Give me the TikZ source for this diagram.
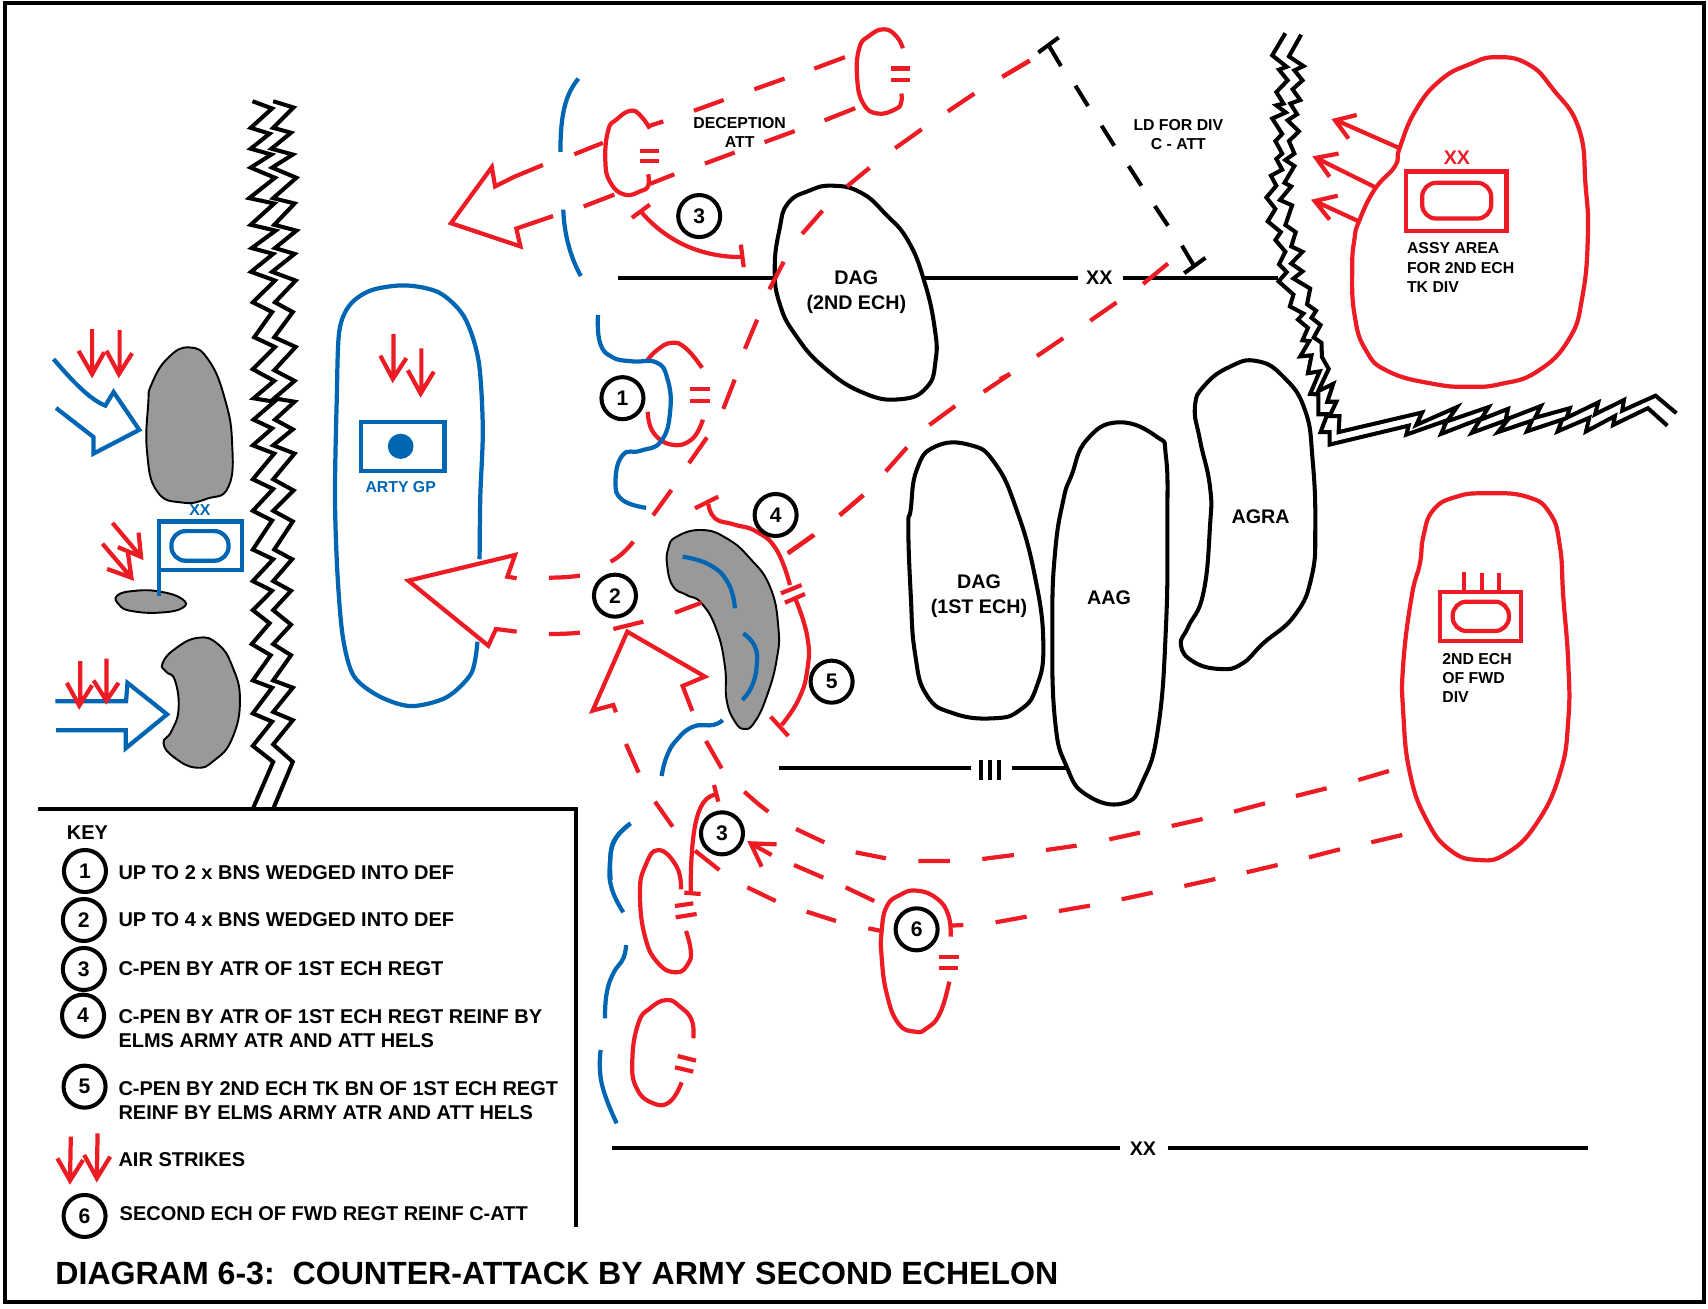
\documentclass[tikz,border=0pt]{standalone}
\usepackage{fontspec}
\setmainfont{Liberation Sans}
\usetikzlibrary{positioning}
\definecolor{mapred}{HTML}{ED1C24}
\definecolor{mapblue}{HTML}{0066B3}
\definecolor{mapgray}{HTML}{999999}

\begin{document}
\begin{tikzpicture}[
  x=0.01cm, y=-0.01cm,
  redline/.style={mapred, line width=1.2pt},
  blueline/.style={mapblue, line width=1.2pt},
  blackline/.style={black, line width=1.15pt},
  grayblob/.style={draw=black, line width=.55pt, fill=mapgray},
  numcirc/.style={draw=black, circle, line width=1.15pt, minimum size=.42cm, inner sep=0pt,
              font=\fontsize{6}{7}\bfseries\selectfont},
  lblbig/.style={align=center, inner sep=0pt, font=\fontsize{5.6}{7}\bfseries\selectfont},
  lblsmall/.style={align=center, inner sep=0pt, font=\fontsize{4.5}{5.45}\bfseries\selectfont},
  lblkey/.style={align=left, anchor=west, inner sep=0pt, font=\fontsize{5.68}{6.85}\bfseries\selectfont},
  oval/.style={rounded corners=.14cm},
  soft/.style={smooth, tension=.8},
  softloop/.style={smooth cycle, tension=.8},
  viewA/.style={shift={(0,60)},xscale=.3571,yscale=.4847},
  viewB/.style={shift={(400,0)},xscale=.4082,yscale=.3571},
  viewC/.style={shift={(1000,0)},xscale=.4515,yscale=.3571},
  viewD/.style={shift={(400,480)},scale=.3333},
  viewE/.style={shift={(580,760)},scale=.3333},
  viewF/.style={shift={(0,790)},xscale=.3827,yscale=.3333},
  viewG/.style={shift={(880,360)},scale=.3333},
  viewH/.style={shift={(1080,480)},scale=.3333}]

\useasboundingbox (0,0) rectangle (1708,1308);

%% ---- frame ----
\draw[black, line width=.9pt] (5,3) rectangle (1704,1302);

%% ---- left side: defence and boundary ----
\begin{scope}[viewA]
\draw[blackline] plot coordinates {(707,85) (762,100) (702,140) (755,152) (702,183) (760,195) (702,222) (770,243) (698,285) (768,296) (702,340) (772,352) (705,388) (765,400) (703,437) (770,455) (708,500) (762,520) (712,572) (770,592) (708,638) (768,662) (710,698) (768,705) (710,742) (762,760) (708,795) (768,812) (708,865) (765,885) (708,930) (762,950) (708,1010) (765,1030) (708,1075) (762,1095) (708,1135) (755,1162) (705,1205) (758,1228) (708,1280) (762,1295) (708,1348) (762,1365) (708,1415) (765,1448) (708,1545)};
\draw[blackline] plot coordinates {(765,85) (822,98) (765,140) (815,150) (760,183) (820,195) (762,222) (830,243) (765,285) (825,296) (768,340) (830,352) (770,388) (825,400) (762,437) (828,455) (770,500) (820,520) (768,572) (828,592) (768,640) (825,662) (768,698) (825,705) (770,742) (820,762) (765,795) (825,812) (765,865) (822,888) (765,930) (820,952) (768,1010) (818,1030) (765,1075) (815,1095) (765,1135) (815,1165) (765,1205) (815,1228) (765,1280) (820,1295) (765,1345) (820,1362) (765,1412) (820,1448) (765,1545)};

%% gray positions
\draw[grayblob] plot[softloop] coordinates {(425,668) (470,615) (530,593) (585,620) (630,700) (650,790) (640,880) (580,905) (510,913) (440,890) (412,810) (415,710)};
\draw[grayblob] plot[softloop] coordinates {(328,1105) (380,1095) (450,1097) (510,1112) (512,1130) (450,1140) (370,1137) (335,1125)};
\draw[grayblob] plot[softloop] coordinates {(455,1245) (490,1215) (555,1192) (610,1205) (650,1250) (672,1320) (650,1400) (600,1445) (550,1460) (490,1440) (458,1410) (480,1385) (500,1340) (490,1280) (465,1262)};

%% blue arrows
\draw[blueline] (150,617) .. controls (200,660) and (250,700) .. (295,713) -- (318,685) -- (390,763) -- (262,812) -- (262,778) -- (157,718);
\draw[blueline] (155,1323) -- (353,1323) -- (357,1285) -- (468,1350) -- (352,1420) -- (352,1383) -- (157,1383);

%% flag
\draw[blueline] (445,1105) -- (445,952) -- (677,952) -- (677,1052) -- (445,1052);
\draw[blueline, oval] (480,972) rectangle (640,1033);
\node[lblsmall, text=mapblue] (flagxx) at (560,928) {XX};

%% air strikes
\draw[redline] (258,555) -- (258,645) (220,600) -- (258,648) -- (292,603);
\draw[redline] (335,557) -- (335,648) (298,600) -- (333,648) -- (370,605);
\draw[redline] (315,955) -- (395,1025) (330,1005) -- (395,1025) -- (388,975);
\draw[redline] (287,998) -- (368,1068) (300,1050) -- (368,1068) -- (358,1015);
\draw[redline] (225,1240) -- (225,1330) (187,1285) -- (222,1332) -- (258,1290);
\draw[redline] (298,1235) -- (298,1322) (262,1280) -- (298,1322) -- (332,1285);

%% artillery group
\draw[blueline] plot[smooth] coordinates {(1343,1030) (1345,900) (1352,760) (1340,620) (1300,530) (1230,480) (1135,465) (1040,475) (980,505) (950,560) (943,700) (938,900) (945,1060) (960,1190) (990,1270) (1060,1312) (1150,1333) (1250,1315) (1320,1265) (1337,1200)};
\draw[blueline] (1010,747) rectangle (1245,848);
\fill[mapblue] (1122,797) ellipse (36 and 26);
\node[lblsmall, text=mapblue] (arty) at (1122,882) {ARTY GP};
\draw[redline] (1102,565) -- (1102,655) (1065,610) -- (1100,658) -- (1138,615);
\draw[redline] (1180,595) -- (1180,685) (1142,640) -- (1178,688) -- (1215,643);
\end{scope}

%% ---- deception attack and 2nd echelon ----
\begin{scope}[viewB]
\draw[redline] (350,462) -- (280,495) -- (233,522) -- (225,468) -- (125,625) -- (295,690) -- (285,640) -- (375,605);
\draw[redline] (427,432) -- (497,400) (612,352) -- (645,340) (720,310) -- (793,280) (868,250) -- (942,220) (1015,192) -- (1090,160);
\draw[redline] (450,578) -- (525,545) (612,515) -- (672,488) (747,458) -- (820,427) (893,398) -- (967,367) (1040,337) -- (1115,303);
\draw[blueline] (437,220) .. controls (405,265) and (393,320) .. (393,425);
\draw[blueline] (400,587) .. controls (402,650) and (415,715) .. (443,773);
\draw[redline] plot[soft] coordinates {(612,360) (590,325) (565,310) (530,335) (510,365) (503,450) (515,510) (550,545) (590,535) (608,520) (608,488)};
\draw[redline] (587,422) -- (635,422) (587,450) -- (635,450);
\draw[redline] plot[soft] coordinates {(1232,135) (1215,100) (1185,82) (1150,100) (1125,135) (1120,220) (1135,290) (1170,318) (1215,305) (1228,285) (1228,262)};
\draw[redline] (1204,192) -- (1250,192) (1204,225) -- (1250,225);
\node[lblsmall] (decept) at (832,370) {DECEPTION\\ATT};
%% counter-penetration 3, upper
\draw[redline] (568,610) -- (612,573);
\draw[redline] (590,592) .. controls (640,660) and (720,720) .. (838,720);
\draw[redline] (835,685) -- (842,748);
\node[numcirc] (three) at (733,605) {3};
%% phase line
\draw[blackline] (535,778) -- (920,778);
\draw[blackline] plot[softloop] coordinates {(950,570) (1000,535) (1060,520) (1130,540) (1190,600) (1245,675) (1285,790) (1310,920) (1312,1010) (1290,1085) (1225,1118) (1135,1100) (1040,1030) (970,940) (930,850) (918,750) (930,640)};
\draw[blackline] (1280,778) -- (1568,778);
\node[lblbig] (dag2) at (1118,818) {DAG\\(2ND ECH)};
%% first axis, upper part
\draw[redline] (1543,170) -- (1476,215) (1407,262) -- (1342,312) (1278,362) -- (1213,415) (1150,470) -- (1095,522) (1035,590) -- (985,655) (940,733) -- (905,810) (875,895) -- (845,977) (820,1063) -- (792,1145) (752,1225) -- (708,1297) (665,1372) -- (620,1443);
%% second axis, upper part
\draw[redline] (1495,1047) -- (1430,1097) (1360,1137) -- (1297,1190) (1242,1253) -- (1190,1320) (1135,1387) -- (1077,1443) (1015,1498) -- (950,1550);
%% wedge 1
\draw[redline] plot[soft] coordinates {(605,1010) (630,980) (665,960) (700,975) (740,1030)};
\draw[redline] plot[soft] coordinates {(607,1153) (620,1210) (665,1245) (715,1230) (742,1175)};
\draw[redline] (710,1090) -- (760,1090) (710,1122) -- (760,1122);
\draw[blueline] plot[soft] coordinates {(485,882) (490,960) (520,1000) (570,1012) (628,1015) (655,1060) (662,1150) (640,1235) (590,1262) (545,1275) (528,1350) (545,1400) (603,1422)};
\node[numcirc] (one) at (545,1115) {1};
\end{scope}

%% ---- upper right ----
\begin{scope}[viewC]
\draw[redline] (65,170) -- (5,215);
\draw[blackline] (85,147) -- (130,105) (107,125) -- (135,185) (167,240) -- (195,297) (225,352) -- (253,408) (285,465) -- (313,520) (343,577) -- (372,632) (403,688) -- (430,745) (408,765) -- (455,722);
\node[lblsmall] (ldiv) at (395,377) {LD FOR DIV\\C - ATT};
\draw[blackline] (0,778) -- (172,778) (272,778) -- (615,778);
\node[lblbig] (phasexx) at (220,778) {XX};
\draw[redline] (372,738) -- (317,795) (258,847) -- (200,898) (140,947) -- (82,997) (22,1047) -- (0,1062);
\draw[blackline] plot coordinates {(632,93) (603,155) (635,187) (618,195) (637,225) (612,258) (628,290) (612,295) (633,315) (603,332) (625,375) (610,395) (625,430) (612,445) (625,475) (600,492) (612,520) (590,553) (610,585) (593,620) (622,650) (610,672) (632,705) (618,740) (635,762) (617,788) (650,825) (642,858) (672,878) (660,895) (682,918) (670,953) (685,955) (665,998) (690,995) (682,1045) (708,1040) (687,1103) (705,1105) (705,1160) (725,1160) (710,1210) (730,1210) (730,1245) (905,1192) (900,1217) (990,1177) (977,1215) (1065,1172) (1045,1212) (1125,1175) (1103,1210) (1178,1178) (1167,1208) (1245,1175) (1235,1208) (1305,1170) (1298,1208) (1362,1165) (1358,1190) (1435,1143) (1478,1192)};
\draw[blackline] plot coordinates {(667,97) (640,158) (672,185) (652,197) (670,225) (648,250) (665,280) (643,290) (658,320) (637,337) (662,368) (640,395) (652,430) (632,448) (652,465) (630,512) (645,522) (620,560) (647,575) (632,630) (655,650) (645,690) (670,705) (645,738) (670,760) (650,780) (687,808) (680,852) (700,870) (690,890) (710,910) (695,945) (712,960) (713,1000) (728,1033) (705,1095) (738,1075) (725,1125) (745,1125) (730,1165) (752,1165) (750,1210) (935,1155) (922,1190) (1012,1140) (990,1180) (1082,1140) (1065,1175) (1125,1145) (1120,1175) (1198,1137) (1185,1170) (1262,1143) (1255,1170) (1325,1127) (1318,1160) (1382,1120) (1378,1150) (1452,1108) (1498,1157)};
%% assembly area
\draw[redline] plot[softloop] coordinates {(885,415) (920,310) (975,225) (1040,180) (1100,160) (1170,180) (1225,250) (1282,360) (1297,520) (1302,660) (1290,830) (1260,950) (1190,1040) (1110,1075) (1040,1083) (960,1075) (860,1040) (810,980) (785,880) (780,750) (785,670) (795,620) (830,530) (875,465)};
\draw[redline] (885,415) -- (745,337) (790,322) -- (742,337) -- (772,388);
\draw[redline] (835,527) -- (700,442) (750,430) -- (700,442) -- (730,495);
\draw[redline] (795,620) -- (697,563) (748,548) -- (697,563) -- (730,615);
\draw[redline] (900,480) rectangle (1122,647);
\draw[redline, oval] (935,512) rectangle (1088,612);
\node[lblbig, text=mapred] (assyxx) at (1012,443) {XX};
\node[lblsmall, align=left, anchor=north west] (assy) at (900,678) {ASSY AREA\\FOR 2ND ECH\\TK DIV};
\end{scope}

%% ---- main attack ----
\begin{scope}[viewD]
\draw[grayblob] plot[softloop] coordinates {(805,205) (830,170) (905,150) (980,175) (1050,235) (1110,320) (1135,440) (1130,540) (1100,650) (1065,725) (1035,747) (1005,725) (980,660) (975,560) (950,450) (905,370) (860,345) (820,320) (802,260)};
\draw[blueline] plot[soft] coordinates {(848,230) (930,255) (985,310) (1005,385)};
\draw[blueline] plot[soft] coordinates {(1030,460) (1065,500) (1070,560) (1055,620) (1027,660)};
\draw[blueline] plot[soft] coordinates {(968,720) (940,735) (880,740) (830,780) (800,830) (785,888)};
\draw[blueline] plot[soft] coordinates {(690,1032) (650,1070) (632,1120) (632,1200)};
%% wedge 2
\draw[redline] (350,295) -- (322,290) -- (345,225) -- (25,302) -- (265,497) -- (288,447) -- (350,455);
\draw[redline] (447,293) .. controls (480,293) and (510,291) .. (540,287);
\draw[redline] (632,245) .. controls (660,230) and (680,210) .. (700,185);
\draw[redline] (447,462) .. controls (480,462) and (510,461) .. (540,458);
\draw[redline] (640,447) -- (730,425) (825,398) -- (905,368);
\draw[redline] (1320,105) -- (1390,45) (1165,218) -- (1240,165);
%% counter-penetrations 4 and 5
\draw[redline] (885,85) -- (955,50);
\draw[redline] plot[soft] coordinates {(925,72) (945,115) (1000,133) (1070,155) (1130,210) (1170,315)};
\draw[redline] (1143,340) -- (1205,315) (1155,368) -- (1215,342);
\draw[redline] plot[soft] coordinates {(1187,358) (1222,470) (1222,570) (1195,660) (1145,735)};
\draw[redline] (1112,710) -- (1165,768);
\node[numcirc] (four) at (1127,105) {4};
\node[numcirc] (two) at (645,347) {2};
\node[numcirc] (five) at (1295,605) {5};
%% wedge 3
\draw[redline] (648,697) -- (640,675) -- (578,692) -- (682,455) -- (915,590) -- (848,618) -- (877,693);
\draw[redline] (678,792) -- (716,878) (918,783) -- (965,865);
\end{scope}

%% ---- lower centre ----
\begin{scope}[viewE]
\draw[redline] (225,125) -- (278,200) (345,272) -- (418,330) (502,382) -- (587,423) (680,455) -- (768,483) (865,505) -- (905,513);
\draw[redline] (493,95) .. controls (515,115) and (540,137) .. (565,155);
\draw[redline] (648,207) -- (733,247) (827,277) -- (918,295) (1015,303) -- (1110,303) (1207,297) -- (1302,285) (1398,270) -- (1490,257);
\draw[redline] (590,253) -- (512,250) -- (545,320) (512,250) -- (575,285) (642,315) -- (730,353) (797,382) -- (883,423);
\draw[redline] (1113,497) -- (1150,495) (1247,487) -- (1340,470) (1437,453) -- (1530,437);
%% counter-penetration 3, lower
\draw[redline] (402,75) -- (415,125);
\draw[redline] (410,103) .. controls (360,110) and (332,170) .. (332,400);
\draw[redline] (313,398) -- (362,402);
\node[numcirc] (threeb) at (426,220) {3};
%% units
\draw[redline] plot[soft] coordinates {(303,388) (290,320) (235,270) (195,320) (180,400) (195,530) (235,610) (290,637) (325,610) (332,570) (318,513)};
\draw[redline] (285,438) -- (340,430) (287,472) -- (350,462);
\draw[blueline] plot[soft] coordinates {(152,190) (105,240) (90,310) (95,385) (130,457)};
\draw[blueline] plot[soft] coordinates {(138,555) (130,595) (100,640) (80,700) (75,775)};
\draw[blueline] plot[soft] coordinates {(62,870) (65,970) (110,1090)};
\draw[redline] plot[soft] coordinates {(340,835) (335,780) (300,740) (260,720) (210,745) (175,790) (157,900) (170,985) (220,1030) (270,1025) (305,967)};
\draw[redline] (293,888) -- (348,902) (285,922) -- (340,935);
\draw[redline] plot[soft] coordinates {(1112,530) (1105,465) (1070,415) (1010,392) (960,405) (920,440) (905,515) (905,590) (920,700) (955,790) (1005,815) (1040,805) (1080,760) (1108,665)};
\draw[redline] (1078,592) -- (1137,592) (1077,625) -- (1135,625);
\node[numcirc] (six) at (1010,508) {6};
%% phase lines
\draw[blackline] (598,25) -- (1172,25) (1203,0) -- (1203,60) (1230,0) -- (1230,60) (1257,0) -- (1257,60) (1297,25) -- (1465,25);
\draw[blackline] (97,1165) -- (1620,1165) (1764,1165) -- (3024,1165);
\node[lblbig] (lowxx) at (1689,1165) {XX};
\end{scope}

%% ---- divisions in depth ----
\begin{scope}[viewG]
\draw[blackline] plot[softloop] coordinates {(92,450) (110,330) (165,260) (270,255) (345,310) (410,450) (465,650) (490,850) (470,980) (420,1050) (340,1075) (220,1060) (140,1005) (105,880) (92,700) (85,500)};
\node[lblbig] (dag1) at (297,708) {DAG\\(1ST ECH)};
\draw[blackline] plot[softloop] coordinates {(575,345) (620,240) (715,187) (830,230) (858,290) (862,500) (858,800) (835,1100) (790,1260) (730,1330) (620,1305) (560,1220) (525,1080) (517,800) (525,580) (550,420)};
\node[lblbig] (aag) at (687,714) {AAG};
\draw[blackline] plot[softloop] coordinates {(945,140) (975,75) (1050,20) (1130,3) (1210,50) (1275,150) (1298,300) (1306,500) (1295,650) (1245,765) (1150,850) (1085,912) (1020,927) (940,905) (903,855) (925,800) (970,700) (990,500) (990,380) (960,240)};
\node[lblbig] (agra) at (1142,471) {AGRA};
\end{scope}

\begin{scope}[viewH]
\draw[redline] plot[softloop] coordinates {(1030,170) (1060,90) (1130,50) (1220,40) (1340,50) (1410,100) (1440,200) (1450,350) (1465,550) (1465,720) (1440,880) (1370,1030) (1280,1120) (1195,1140) (1110,1110) (1040,1020) (990,880) (970,700) (970,550) (995,350) (1020,250)};
\draw[redline] (1080,337) rectangle (1323,482);
\draw[redline, oval] (1118,365) rectangle (1287,453);
\draw[redline] (1152,275) -- (1152,337) (1207,278) -- (1207,337) (1258,278) -- (1258,337);
\node[lblsmall, align=left, anchor=north west] (fwd) at (1085,518) {2ND ECH\\OF FWD\\DIV};
\draw[redline] (88,1078) -- (180,1058) (275,1038) -- (368,1017) (462,995) -- (555,970) (648,948) -- (740,925) (835,900) -- (927,873);
\draw[redline] (125,1258) -- (218,1238) (313,1218) -- (406,1197) (500,1177) -- (593,1155) (687,1132) -- (780,1108) (874,1087) -- (967,1065);
\end{scope}

%% ---- key ----
\begin{scope}[viewF]
\draw[blackline] (100,58) -- (1505,58) -- (1505,1310);
\node[lblkey] (keyhead) at (173,127) {KEY};
\node[numcirc] (key1) at (222,243) {1};
\node[lblkey] (text1) at (308,247) {UP TO 2 x BNS WEDGED INTO DEF};
\node[numcirc] (key2) at (219,390) {2};
\node[lblkey] (text2) at (308,390) {UP TO 4 x BNS WEDGED INTO DEF};
\node[numcirc] (key3) at (219,537) {3};
\node[lblkey] (text3) at (308,535) {C-PEN BY ATR OF 1ST ECH REGT};
\node[numcirc] (key4) at (217,677) {4};
\node[lblkey] (text4) at (308,716) {C-PEN BY ATR OF 1ST ECH REGT REINF BY\\ELMS ARMY ATR AND ATT HELS};
\node[numcirc] (key5) at (221,890) {5};
\node[lblkey] (text5) at (308,931) {C-PEN BY 2ND ECH TK BN OF 1ST ECH REGT\\REINF BY ELMS ARMY ATR AND ATT HELS};
\draw[redline] (185,1040) -- (183,1170) (150,1105) -- (183,1172) -- (217,1110);
\draw[redline] (255,1030) -- (253,1163) (220,1095) -- (253,1165) -- (288,1100);
\node[lblkey] (text7) at (308,1110) {AIR STRIKES};
\node[numcirc] (key6) at (221,1278) {6};
\node[lblkey] (text6) at (311,1270) {SECOND ECH OF FWD REGT REINF C-ATT};
\node[anchor=west, inner sep=0pt, font=\fontsize{9.13}{11}\bfseries\selectfont] (title) at (143,1450)
  {DIAGRAM 6-3:\ \ COUNTER-ATTACK BY ARMY SECOND ECHELON};
\end{scope}

\end{tikzpicture}
\end{document}
